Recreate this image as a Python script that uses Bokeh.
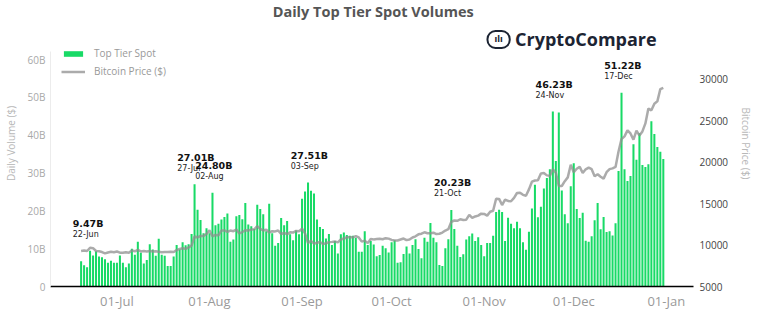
import pandas as pd
from bokeh.plotting import figure
from bokeh.models import (Range1d, LinearAxis, FixedTicker, DatetimeTickFormatter,
                          CustomJSTickFormatter, Label, Legend, LegendItem, ColumnDataSource)
from bokeh.embed import file_html
from bokeh.resources import INLINE

# ---------------- data ----------------
start_date = "2020-06-19"
end_date = "2020-12-31"

vol_jun = [6.7, 5.6, 5.1, 9.47, 8.2, 9.3, 7.9, 7.7, 7.2, 6.3, 6.8, 6.3]
vol_jul = [6.3, 8.2, 6.3, 5.1, 6.1, 10.0, 8.4, 11.8, 8.9, 6.1, 7.0, 11.2, 9.8, 8.1, 12.6, 8.4,
           8.1, 5.4, 5.4, 7.9, 11.0, 9.8, 11.7, 10.9, 11.2, 13.9, 27.01, 20.3, 17.6, 14.1, 15.4]
vol_aug = [14.1, 24.80, 16.2, 16.6, 17.7, 18.4, 19.3, 11.8, 12.4, 18.6, 18.9, 17.8, 22.1, 16.4,
           15.9, 15.2, 21.6, 20.5, 19.1, 14.6, 21.9, 14.1, 10.8, 11.5, 18.1, 16.2, 17.3, 13.8,
           12.2, 14.8, 13.8]
vol_sep = [23.2, 25.1, 27.51, 25.3, 24.6, 17.7, 15.7, 15.2, 12.7, 13.9, 11.0, 12.0, 8.7, 13.8,
           14.3, 13.6, 13.4, 13.4, 12.9, 9.2, 9.2, 14.6, 11.0, 12.0, 11.1, 8.0, 8.3, 10.8, 10.1, 9.0]
vol_oct = [11.7, 12.2, 6.3, 6.4, 8.6, 10.6, 8.7, 11.0, 12.5, 9.9, 7.5, 12.9, 11.8, 16.8, 12.9,
           11.7, 5.7, 5.4, 10.1, 12.5, 20.23, 15.2, 10.8, 7.8, 8.5, 12.4, 13.3, 14.0, 12.0, 13.0, 11.0]
vol_nov = [8.0, 11.5, 11.5, 13.4, 19.7, 20.3, 19.7, 12.0, 18.2, 16.6, 15.4, 17.1, 15.4, 11.7,
           9.7, 14.5, 20.6, 26.9, 18.3, 21.1, 25.9, 28.7, 31.0, 46.23, 33.2, 46.0, 25.4, 19.1,
           16.7, 26.5]
vol_dec = [32.6, 20.5, 18.1, 19.5, 12.1, 11.8, 13.3, 17.5, 22.1, 15.1, 18.4, 14.4, 14.6, 13.5,
           16.7, 30.5, 51.22, 31.0, 27.9, 29.2, 37.6, 33.5, 40.5, 32.1, 31.6, 32.3, 43.7, 40.3,
           36.9, 35.6, 33.7]

btc_jun = [9300, 9360, 9290, 9680, 9630, 9290, 9250, 9160, 9000, 9110, 9190, 9140]
btc_jul = [9230, 9090, 9070, 9130, 9080, 9340, 9250, 9430, 9240, 9290, 9240, 9300, 9240, 9250,
           9200, 9130, 9160, 9180, 9210, 9160, 9390, 9540, 9610, 9550, 9710, 9930, 11030, 10940,
           11100, 11110, 11350]
btc_aug = [11800, 11070, 11230, 11190, 11750, 11770, 11600, 11760, 11680, 11880, 11410, 11580,
           11780, 11770, 11870, 11910, 12280, 11960, 11760, 11870, 11520, 11680, 11650, 11770,
           11340, 11460, 11320, 11540, 11510, 11710, 11680]
btc_sep = [11970, 11410, 10250, 10510, 10170, 10280, 10370, 10130, 10230, 10350, 10390, 10440,
           10330, 10680, 10790, 10950, 10940, 10940, 11090, 10920, 10420, 10540, 10240, 10740,
           10690, 10730, 10770, 10710, 10840, 10780]
btc_oct = [10620, 10570, 10550, 10670, 10790, 10600, 10670, 10920, 11060, 11300, 11380, 11550,
           11430, 11430, 11500, 11330, 11370, 11510, 11760, 11920, 12820, 12970, 12930, 13120,
           13040, 13070, 13650, 13280, 13460, 13560, 13800]
btc_nov = [13760, 13560, 14030, 14150, 15590, 15580, 14840, 15480, 15330, 15300, 15700, 16290,
           16330, 16070, 15960, 16730, 17660, 17800, 17820, 18660, 18700, 18420, 18370, 19160,
           18730, 17150, 17140, 17720, 18180, 19700]
btc_dec = [18790, 19220, 19450, 18700, 19150, 19360, 19170, 18320, 18550, 18250, 18030, 18800,
           19170, 19270, 19440, 21310, 22800, 23130, 23860, 23480, 22740, 23830, 23240, 23730,
           24700, 26490, 26280, 27080, 27360, 28840, 29000]

month_ticks = ["2020-07-01", "2020-08-01", "2020-09-01", "2020-10-01",
               "2020-11-01", "2020-12-01", "2021-01-01"]
peak_dates = ["2020-06-22", "2020-07-27", "2020-08-02", "2020-09-03",
              "2020-10-21", "2020-11-24", "2020-12-17"]
peak_values = [9.47, 27.01, 24.80, 27.51, 20.23, 46.23, 51.22]

volume_ticks = [0, 10, 20, 30, 40, 50, 60]
price_ticks = [5000, 10000, 15000, 20000, 25000, 30000]

# ---------------- build ----------------
dates = pd.date_range(start_date, end_date, freq="D")
volumes = vol_jun + vol_jul + vol_aug + vol_sep + vol_oct + vol_nov + vol_dec
prices = btc_jun + btc_jul + btc_aug + btc_sep + btc_oct + btc_nov + btc_dec
src = ColumnDataSource(dict(date=dates, vol=volumes, price=prices))

DAY = 86400000.0
def ms(d):
    return pd.Timestamp(d).value / 1e6

x0 = ms(start_date) - 10.25 * DAY
x1 = x0 + 215.36 * DAY

# frame spans the full height; 60B sits at pixel row 59, 0 at row 286
FL, FR, FB = 48, 693, 286
PX_PER_B = 227 / 60.0
vol_top = FB / PX_PER_B
PX_PER_USD = 227 / 27415.0
price_top = 5000 + FB / PX_PER_USD

def px_x(px):
    return x0 + (px - FL) / (FR - FL) * (x1 - x0)
def px_y(py):
    return (FB - py) / PX_PER_B

p = figure(width=764, height=321, output_backend="svg", toolbar_location=None,
           x_axis_type="datetime", x_range=Range1d(x0, x1), y_range=Range1d(0, vol_top),
           min_border_left=FL, min_border_right=764 - FR, min_border_top=0,
           min_border_bottom=321 - FB, title=None, outline_line_color=None,
           background_fill_color="white", border_fill_color="white")
p.xgrid.grid_line_color = None
p.ygrid.grid_line_color = None

p.extra_y_ranges = {"price": Range1d(5000, price_top)}

bars = p.vbar(x="date", top="vol", width=0.68 * DAY, source=src,
              fill_color="#18da66", line_color=None)
line = p.line(x="date", y="price", source=src, y_range_name="price",
              line_color="#8f8f8f", line_alpha=0.75, line_width=2.5)

# x axis
xa = p.xaxis[0]
xa.ticker = FixedTicker(ticks=[ms(t) for t in month_ticks])
xa.formatter = DatetimeTickFormatter(days="%d-%b", months="%d-%b", years="%d-%b")
xa.axis_line_color = "black"
xa.axis_line_width = 1.5
xa.major_tick_line_color = None
xa.minor_tick_line_color = None
xa.major_tick_out = 0
xa.major_label_standoff = 5
xa.major_label_text_font = "Open Sans"
xa.major_label_text_font_size = "13px"
xa.major_label_text_color = "#9a9a9a"

# left axis
ya = p.yaxis[0]
ya.ticker = FixedTicker(ticks=volume_ticks)
ya.bounds = (0, 62)
ya.formatter = CustomJSTickFormatter(code="return tick == 0 ? '0' : tick + 'B'")
ya.axis_line_color = "#ececec"
ya.major_tick_line_color = None
ya.minor_tick_line_color = None
ya.major_tick_out = 0
ya.major_label_standoff = 5
ya.major_label_text_font = "Open Sans"
ya.major_label_text_font_size = "10px"
ya.major_label_text_color = "#a8a8a8"
ya.axis_label = "Daily Volume ($)"
ya.axis_label_text_font = "Open Sans"
ya.axis_label_text_font_size = "10px"
ya.axis_label_text_font_style = "normal"
ya.axis_label_text_color = "#b8b8b8"
ya.axis_label_standoff = 7

# right axis
ra = LinearAxis(y_range_name="price", ticker=FixedTicker(ticks=price_ticks),
                bounds=(5000, 5000 + 237 / PX_PER_USD))
ra.axis_line_color = None
ra.major_tick_line_color = None
ra.minor_tick_line_color = None
ra.major_tick_out = 0
ra.major_label_standoff = 6
ra.major_label_text_font = "Open Sans"
ra.major_label_text_font_size = "10px"
ra.major_label_text_color = "#444444"
ra.axis_label = "Bitcoin Price ($)"
ra.axis_label_text_font = "Open Sans"
ra.axis_label_text_font_size = "10px"
ra.axis_label_text_font_style = "normal"
ra.axis_label_text_color = "#b8b8b8"
ra.axis_label_standoff = 8
p.add_layout(ra, "right")

# legend
legend = Legend(items=[LegendItem(label="Top Tier Spot", renderers=[bars]),
                       LegendItem(label="Bitcoin Price ($)", renderers=[line])],
                location=(11, 208), padding=0, spacing=4, margin=0,
                glyph_width=24, glyph_height=7, label_height=12, label_standoff=9,
                label_text_font="Open Sans", label_text_font_size="10px",
                label_text_color="#999999", border_line_color=None,
                background_fill_alpha=0)
p.add_layout(legend)

# peak annotations
for d, v in zip(peak_dates, peak_values):
    lx = ms(d) - 5.8 * DAY
    p.add_layout(Label(x=lx, y=v, y_offset=27, text=f"{v:.2f}B", text_font="DejaVu Sans",
                       text_font_style="bold", text_font_size="9.5px", text_color="#111111",
                       text_baseline="middle", text_align="left"))
    p.add_layout(Label(x=lx, y=v, y_offset=16, text=pd.Timestamp(d).strftime("%d-%b"),
                       text_font="DejaVu Sans", text_font_size="8px", text_color="#222222",
                       text_baseline="middle", text_align="left"))

# title and logo
p.add_layout(Label(x=px_x(371.7), y=px_y(11), text="Daily Top Tier Spot Volumes",
                   text_font="Open Sans", text_font_style="bold", text_font_size="14.5px",
                   text_color="#555555", text_align="center", text_baseline="middle"))
p.add_layout(Label(x=px_x(514), y=px_y(38.5), text="CryptoCompare",
                   text_font="Open Sans", text_font_style="bold", text_font_size="18px",
                   text_color="#1c2433", text_align="left", text_baseline="middle"))
p.add_layout(Label(x=px_x(497.5), y=px_y(39), text="ılı",
                   text_font="DejaVu Sans", text_font_style="bold", text_font_size="8px",
                   text_color="#1c2433", text_align="center", text_baseline="middle",
                   border_line_color="#1c2433", border_line_width=2,
                   padding=dict(left=7, right=7, top=4, bottom=4), border_radius=8))

open("out.html", "w").write(file_html(p, INLINE))
